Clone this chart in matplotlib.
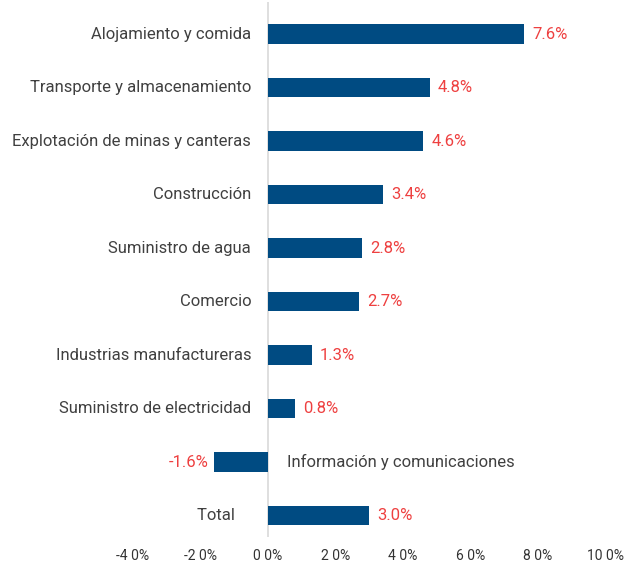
import matplotlib.pyplot as plt

# sectors, top to bottom
sectors = [
    'Alojamiento y comida',
    'Transporte y almacenamiento',
    'Explotación de minas y canteras',
    'Construcción',
    'Suministro de agua',
    'Comercio',
    'Industrias manufactureras',
    'Suministro de electricidad',
    'Información y comunicaciones',
    'Total',
]
growth = [7.6, 4.8, 4.6, 3.4, 2.8, 2.7, 1.3, 0.8, -1.6, 3.0]

tick_values = [-4, -2, 0, 2, 4, 6, 8, 10]
tick_labels = ['-4 0%', '-2 0%', '0 0%', '2 0%', '4 0%', '6 0%', '8 0%', '10 0%']

bar_color = '#004B82'
value_color = '#EE4040'
label_color = '#404040'

plt.rcParams['font.family'] = ['Roboto', 'DejaVu Sans']

fig = plt.figure(figsize=(6.26, 5.64), dpi=100)
ax = fig.add_axes([0.2125, 0.048, 0.754, 0.9486])

ypos = list(range(len(sectors)))
ax.barh(ypos, growth, height=0.36, color=bar_color)

# zero line
ax.axvline(0, color='#d9d9d9', linewidth=1.2, zorder=0)

fs = 12
for y, name, v in zip(ypos, sectors, growth):
    txt = f'{v:.1f}%'
    if v >= 0:
        ax.annotate(txt, (v, y), xytext=(6, 0), textcoords='offset points',
                    ha='left', va='center', fontsize=fs, color=value_color)
        lbl = name + '    ' if name == 'Total' else name
        ax.annotate(lbl, (0, y), xytext=(-12, 0), textcoords='offset points',
                    ha='right', va='center', fontsize=fs, color=label_color)
    else:
        ax.annotate(txt, (v, y), xytext=(-4, 0), textcoords='offset points',
                    ha='right', va='center', fontsize=fs, color=value_color)
        ax.annotate(name, (0, y), xytext=(14, 0), textcoords='offset points',
                    ha='left', va='center', fontsize=fs, color=label_color)

ax.set_xlim(-4, 10)
ax.set_ylim(9.4, -0.6)
ax.set_xticks(tick_values)
ax.set_xticklabels(tick_labels, fontsize=10, color='#333333')
ax.set_yticks([])
ax.tick_params(axis='x', length=0, pad=9)
for s in ax.spines.values():
    s.set_visible(False)

plt.savefig('out.png', dpi=100)
